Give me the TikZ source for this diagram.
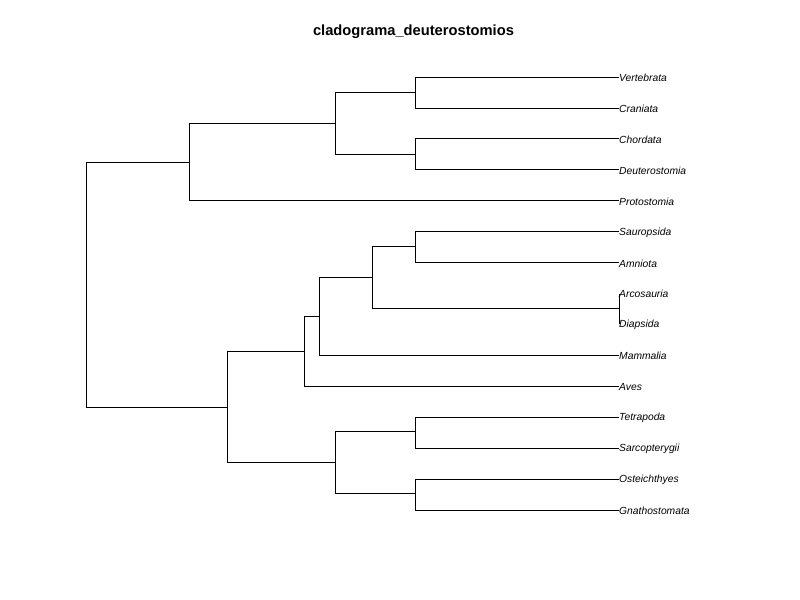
\documentclass[tikz,border=0pt]{standalone}
\usepackage{fontspec}
\setmainfont{Liberation Sans}
\begin{document}
\begin{tikzpicture}[x=1bp,y=-1bp,
  branch/.style={draw=black,line width=0.8bp},
  tiplabel/.style={anchor=west,inner sep=0pt,yshift=-0.8bp,font=\fontsize{10.3bp}{12bp}\selectfont\itshape},
  titletext/.style={font=\fontsize{14.7bp}{17bp}\selectfont\bfseries}]
\useasboundingbox (0,0) rectangle (800,600);
\node[titletext] (title) at (413.5,31.5) {cladograma\_deuterostomios};

% tips
\def\tipx{619}
\foreach \nm/\lab [count=\i from 0] in {t1/Vertebrata,t2/Craniata,t3/Chordata,t4/Deuterostomia,t5/Protostomia,
  t6/Sauropsida,t7/Amniota,t8/Arcosauria,t9/Diapsida,t10/Mammalia,t11/Aves,t12/Tetrapoda,
  t13/Sarcopterygii,t14/Osteichthyes,t15/Gnathostomata}{
  \coordinate (\nm) at (\tipx,{77+30.93*\i});
  \node[tiplabel] (\nm-label) at (\nm) {\lab};
}

% internal nodes
\coordinate (n1) at (415,92.5);
\coordinate (n2) at (415,154.4);
\coordinate (n3) at (335,123.4);
\coordinate (n4) at (189,162.2);
\coordinate (n5) at (415,246.3);
\coordinate (n6) at (619,308.7);
\coordinate (n7) at (372,277.5);
\coordinate (n8) at (319,316.3);
\coordinate (n9) at (304,351.1);
\coordinate (n10) at (415,431.7);
\coordinate (n11) at (415,493.6);
\coordinate (n12) at (335,462.6);
\coordinate (n13) at (227,406.9);
\coordinate (root) at (86,284.5);

% branches
\begin{scope}[branch]
\draw (root) |- (n4);  \draw (root) |- (n13);
\draw (n4) |- (n3);    \draw (n4) |- (t5);
\draw (n3) |- (n1);    \draw (n3) |- (n2);
\draw (n1) |- (t1);    \draw (n1) |- (t2);
\draw (n2) |- (t3);    \draw (n2) |- (t4);
\draw (n13) |- (n9);   \draw (n13) |- (n12);
\draw (n9) |- (n8);    \draw (n9) |- (t11);
\draw (n8) |- (n7);    \draw (n8) |- (t10);
\draw (n7) |- (n5);    \draw (n7) |- (n6);
\draw (n5) |- (t6);    \draw (n5) |- (t7);
\draw (n6) |- (t8);    \draw (n6) |- (t9);
\draw (n12) |- (n10);  \draw (n12) |- (n11);
\draw (n10) |- (t12);  \draw (n10) |- (t13);
\draw (n11) |- (t14);  \draw (n11) |- (t15);
\end{scope}
\end{tikzpicture}
\end{document}
